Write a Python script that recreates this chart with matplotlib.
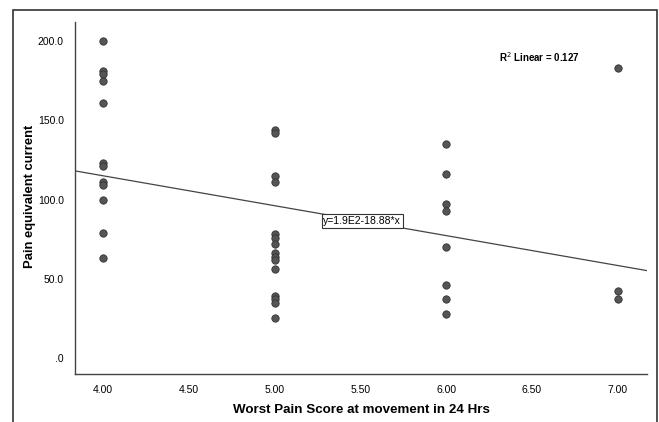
import matplotlib
matplotlib.use("Agg")
import matplotlib.pyplot as plt
from matplotlib.patches import Rectangle

# Data
x4 = [200, 181, 179, 175, 161, 123, 121, 111, 109, 100, 79, 63]
x5 = [144, 142, 115, 111, 78, 76, 72, 66, 64, 62, 56, 39, 37, 35, 25]
x6 = [135, 116, 97, 93, 70, 46, 37, 28]
x7 = [183, 42, 37]
score_levels = [4.0, 5.0, 6.0, 7.0]
groups = [x4, x5, x6, x7]

intercept = 190.5
slope = -18.88
r2 = 0.127

xticks = [4.0, 4.5, 5.0, 5.5, 6.0, 6.5, 7.0]
xtick_labels = ["4.00", "4.50", "5.00", "5.50", "6.00", "6.50", "7.00"]
yticks = [0, 50, 100, 150, 200]
ytick_labels = [".0", "50.0", "100.0", "150.0", "200.0"]

W, H = 659, 422
fig = plt.figure(figsize=(W / 100, H / 100), dpi=100)
plt.rcParams['font.family'] = ['Liberation Sans', 'DejaVu Sans']

# outer frame
fig.patches.append(Rectangle((13 / W, -0.1), (657 - 13) / W, 1.1 - 10 / H,
                             transform=fig.transFigure, fill=False,
                             edgecolor="#333333", linewidth=1.2))

ax = fig.add_axes([75 / W, 1 - 374 / H, (647 - 75) / W, (374 - 22) / H])
xmin, xmax = 3.837, 7.17
ymin, ymax = -10.1, 212.0
ax.set_xlim(xmin, xmax)
ax.set_ylim(ymin, ymax)

for xv, ys in zip(score_levels, groups):
    ax.scatter([xv] * len(ys), ys, s=28, color="#555555", edgecolor="#333333",
               linewidth=0.6, zorder=3)

ax.plot([xmin, xmax], [intercept + slope * xmin, intercept + slope * xmax],
        color="#444444", linewidth=0.9, zorder=2)

xl = 5.51
ax.text(xl, intercept + slope * xl, "y=1.9E2-18.88*x", fontsize=7.5,
        ha="center", va="center", zorder=4,
        bbox=dict(boxstyle="square,pad=0.15", facecolor="white",
                  edgecolor="#333333", linewidth=0.8))

ax.text(6.545, 190, "R$^2$ Linear = %.3f" % r2, fontsize=7, fontweight="bold",
        ha="center", va="center")

ax.set_xticks(xticks)
ax.set_xticklabels(xtick_labels, fontsize=7.5)
ax.set_yticks(yticks)
ax.set_yticklabels(ytick_labels, fontsize=7.5)
ax.tick_params(length=0, pad=8)
for s in ["top", "right"]:
    ax.spines[s].set_visible(False)
for s in ["left", "bottom"]:
    ax.spines[s].set_color("#444444")
    ax.spines[s].set_linewidth(1.0)

fig.text(361 / W, 1 - 410 / H, "Worst Pain Score at movement in 24 Hrs",
         fontsize=9.6, fontweight="bold", ha="center", va="center")
fig.text(30 / W, 1 - 196 / H, "Pain equivalent current", rotation=90,
         fontsize=9.4, fontweight="bold", ha="center", va="center")

fig.savefig("out.png", dpi=100)
